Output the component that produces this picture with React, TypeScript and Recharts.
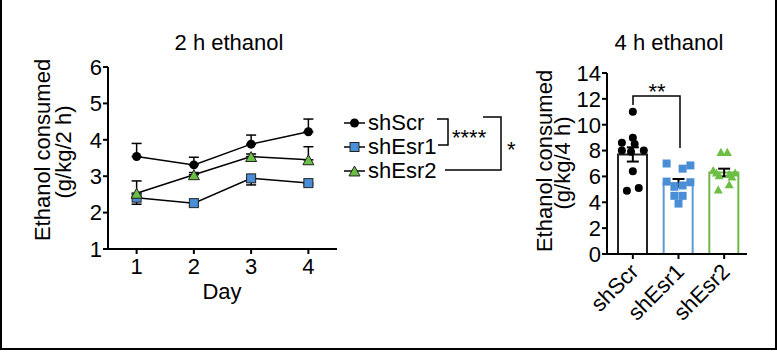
import React from 'react';
import { LineChart, Line, XAxis, YAxis, ErrorBar, ComposedChart, Bar, Cell, Scatter } from 'recharts';

// 2 h ethanol, mean per day (g/kg/2 h)
const days = [1, 2, 3, 4];
const shScr2h = [3.54, 3.31, 3.88, 4.22];
const shScr2hSem = [0.36, 0.21, 0.25, 0.35];
const shEsr1_2h = [2.41, 2.26, 2.94, 2.81];
const shEsr1_2hSem = [0.18, 0.07, 0.18, 0.06];
const shEsr2_2h = [2.53, 3.04, 3.54, 3.45];
const shEsr2_2hSem = [0.34, 0.06, 0.07, 0.36];

// 4 h ethanol (g/kg/4 h)
const groups = ['shScr', 'shEsr1', 'shEsr2'];
const means4h = [7.7, 5.5, 6.3];
const sems4h = [0.55, 0.3, 0.3];
const scrPoints = [11.0, 9.0, 8.6, 8.5, 8.0, 8.0, 7.9, 6.4, 5.1, 4.9];
const esr1Points = [7.0, 6.6, 6.85, 5.6, 5.55, 5.2, 5.3, 4.5, 4.5, 3.9];
const esr2Points = [7.9, 7.9, 6.5, 6.3, 6.2, 6.1, 6.0, 6.3, 5.4, 5.0];
// horizontal spread of the dots, in category widths
const scrJitter = [0, 0, -0.24, 0.04, -0.24, 0.24, -0.04, 0, 0.13, -0.13];
const esr1Jitter = [-0.26, 0.09, 0.26, -0.26, 0.26, -0.09, 0.09, -0.09, 0.09, 0];
const esr2Jitter = [-0.07, 0.07, -0.24, 0.24, 0.11, -0.11, 0.17, -0.17, 0.11, -0.13];

const FONT = '"Liberation Sans", Arial, sans-serif';
const FS = 22;
const BLUE = '#4a8fd6';
const GREEN = '#6cbf45';
const BLUE_EDGE = '#5b9bd5';
const GREEN_EDGE = '#70b84a';
const barEdges = ['#222', BLUE_EDGE, GREEN_EDGE];

const lineData = days.map((d, i) => ({
  day: d,
  scr: shScr2h[i],
  scrErr: [0, shScr2hSem[i]],
  esr1: shEsr1_2h[i],
  esr1Err: [shEsr1_2hSem[i], 0],
  esr2: shEsr2_2h[i],
  esr2Err: [0, shEsr2_2hSem[i]],
}));

const barData = groups.map((g, i) => ({ name: g, mean: means4h[i] }));
const semData = groups.map((g, i) => ({ x: i, y: means4h[i], sem: sems4h[i] }));
const toPts = (vals: number[], jit: number[], idx: number) => vals.map((v, i) => ({ x: idx + jit[i], y: v }));

const Circle = (r: number, stroke?: string) => (p: any) =>
  <circle key={p.index} cx={p.cx} cy={p.cy} r={r} fill="#000" stroke={stroke || 'none'} />;
const Square = (s: number, fill: string, stroke?: string) => (p: any) =>
  <rect key={p.index} x={p.cx - s / 2} y={p.cy - s / 2} width={s} height={s} fill={fill} stroke={stroke || 'none'} strokeWidth={1} />;
const Tri = (w: number, fill: string, stroke?: string) => (p: any) => {
  const h = w * 0.9;
  return (
    <polygon key={p.index}
      points={`${p.cx - w / 2},${p.cy + h / 2} ${p.cx + w / 2},${p.cy + h / 2} ${p.cx},${p.cy - h / 2}`}
      fill={fill} stroke={stroke || 'none'} strokeWidth={1} />
  );
};

const axisStyle = { stroke: '#000', strokeWidth: 2 };
const tickStyle = { fill: '#000', fontSize: FS, fontFamily: FONT };

const RotTick = (p: any) => (
  <g transform={`translate(${p.x + 7},${p.y + 12})`}>
    <text x={0} y={0} textAnchor="end" transform="rotate(-45)" fill="#000" fontSize={FS} fontFamily={FONT}>
      {p.payload.value}
    </text>
  </g>
);

const txt = { fontFamily: FONT, fill: '#000' };

export default function App() {
  return (
    <div style={{ position: 'absolute', left: 0, top: 0, width: 777, height: 352, background: '#fff', fontFamily: FONT }}>
      <div style={{ position: 'absolute', left: 0, top: 0 }}>
        <LineChart width={345} height={320} data={lineData} margin={{ top: 67, right: 8, bottom: 41, left: 48 }}>
          <XAxis dataKey="day" type="number" domain={[0.5, 4.5]} ticks={days} axisLine={axisStyle} tickLine={axisStyle}
            tickSize={5} tickMargin={4} tick={tickStyle} height={30} interval={0} />
          <YAxis domain={[1, 6]} ticks={[1, 2, 3, 4, 5, 6]} axisLine={axisStyle} tickLine={axisStyle}
            tickSize={5} tickMargin={1} tick={tickStyle} width={60} interval={0} />
          <Line dataKey="esr1" stroke="#000" strokeWidth={1.5} isAnimationActive={false} dot={Square(9, BLUE, '#222')}>
            <ErrorBar dataKey="esr1Err" direction="y" width={5} stroke="#000" strokeWidth={1.5} />
          </Line>
          <Line dataKey="esr2" stroke="#000" strokeWidth={1.5} isAnimationActive={false} dot={Tri(11, GREEN, '#222')}>
            <ErrorBar dataKey="esr2Err" direction="y" width={5} stroke="#000" strokeWidth={1.5} />
          </Line>
          <Line dataKey="scr" stroke="#000" strokeWidth={1.5} isAnimationActive={false} dot={Circle(4.5)}>
            <ErrorBar dataKey="scrErr" direction="y" width={5} stroke="#000" strokeWidth={1.5} />
          </Line>
        </LineChart>
      </div>

      <div style={{ position: 'absolute', left: 520, top: 0 }}>
        <ComposedChart width={257} height={352} data={barData} margin={{ top: 73, right: 30, bottom: 38, left: 37 }}>
          <XAxis xAxisId="cat" dataKey="name" axisLine={axisStyle} tickLine={axisStyle} tickSize={5}
            tick={<RotTick />} height={60} padding={{ left: 3, right: 0 }} interval={0} />
          <XAxis xAxisId="num" dataKey="x" type="number" domain={[-0.5, 2.5]} hide padding={{ left: 3, right: 0 }} />
          <YAxis domain={[0, 14]} ticks={[0, 2, 4, 6, 8, 10, 12, 14]} axisLine={axisStyle} tickLine={axisStyle}
            tickSize={5} tickMargin={1} tick={tickStyle} width={50} interval={0} />
          <Bar xAxisId="cat" dataKey="mean" barSize={29} fill="#fff" strokeWidth={2} isAnimationActive={false}>
            {barData.map((d, i) => <Cell key={d.name} stroke={barEdges[i]} fill="#fff" />)}
          </Bar>
          <Scatter xAxisId="num" data={toPts(scrPoints, scrJitter, 0)} dataKey="y" isAnimationActive={false} shape={Circle(4)} />
          <Scatter xAxisId="num" data={toPts(esr1Points, esr1Jitter, 1)} dataKey="y" isAnimationActive={false} shape={Square(8, BLUE)} />
          <Scatter xAxisId="num" data={toPts(esr2Points, esr2Jitter, 2)} dataKey="y" isAnimationActive={false} shape={Tri(9, GREEN)} />
          <Scatter xAxisId="num" data={semData} dataKey="y" isAnimationActive={false} shape={() => <g />}>
            <ErrorBar dataKey="sem" direction="y" width={6} stroke="#000" strokeWidth={2} />
          </Scatter>
        </ComposedChart>
      </div>

      <svg width={777} height={352} style={{ position: 'absolute', left: 0, top: 0, pointerEvents: 'none' }}>
        <text x={229} y={50} textAnchor="middle" fontSize={FS} {...txt}>2 h ethanol</text>
        <text transform="translate(50,150) rotate(-90)" textAnchor="middle" fontSize={FS} {...txt}>Ethanol consumed</text>
        <text transform="translate(71,152) rotate(-90)" textAnchor="middle" fontSize={FS} {...txt}>(g/kg/2 h)</text>
        <text x={222} y={299} textAnchor="middle" fontSize={FS} {...txt}>Day</text>

        {/* legend */}
        <g stroke="#000" strokeWidth={1.5}>
          <line x1={344} x2={365} y1={123} y2={123} />
          <line x1={344} x2={365} y1={147} y2={147} />
          <line x1={344} x2={365} y1={171} y2={171} />
        </g>
        {Circle(4.5)({ cx: 354.5, cy: 123, index: 0 })}
        {Square(9, BLUE, '#222')({ cx: 354.5, cy: 147, index: 1 })}
        {Tri(11, GREEN, '#222')({ cx: 354.5, cy: 171, index: 2 })}
        <text x={368} y={130} fontSize={FS} {...txt}>shScr</text>
        <text x={368} y={154} fontSize={FS} {...txt}>shEsr1</text>
        <text x={368} y={178} fontSize={FS} {...txt}>shEsr2</text>

        <g stroke="#000" strokeWidth={1.5} fill="none">
          <polyline points="437,119 448,119 448,145 438,145" />
          <polyline points="483,117 501,117 501,170 445,170" />
          <polyline points="633,105 633,96 680,96 680,148" />
        </g>
        <text x={452} y={145} fontSize={FS} {...txt}>****</text>
        <text x={507} y={157} fontSize={FS} {...txt}>*</text>
        <text x={657} y={99} textAnchor="middle" fontSize={FS} {...txt}>**</text>

        <text x={669} y={50} textAnchor="middle" fontSize={FS} {...txt}>4 h ethanol</text>
        <text transform="translate(552,161) rotate(-90)" textAnchor="middle" fontSize={FS} {...txt}>Ethanol consumed</text>
        <text transform="translate(570,163) rotate(-90)" textAnchor="middle" fontSize={FS} {...txt}>(g/kg/4 h)</text>

        <rect x={1} y={-2} width={775} height={351} fill="none" stroke="#000" strokeWidth={2} />
      </svg>
    </div>
  );
}
